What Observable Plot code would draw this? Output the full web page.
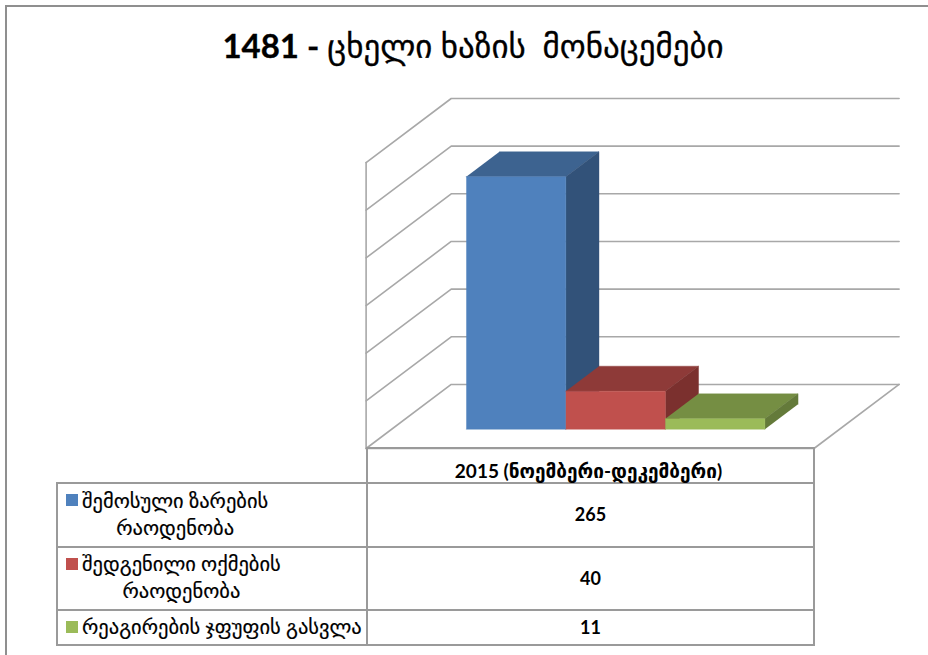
<!DOCTYPE html>
<html><head><meta charset="utf-8">
<script src="https://cdn.jsdelivr.net/npm/d3@7"></script>
<script src="https://cdn.jsdelivr.net/npm/@observablehq/plot@0.6"></script>
<style>
html,body{margin:0;padding:0;background:#fff;}
#page{position:relative;width:928px;height:655px;overflow:hidden;font-family:Lato,"DejaVu Sans",sans-serif;color:#000;}
#frame{position:absolute;left:5px;top:5px;width:940px;height:670px;border:2px solid #8f8f8f;box-sizing:border-box;}
#title{position:absolute;left:0;top:25px;width:946px;text-align:center;font-size:33px;white-space:pre;-webkit-text-stroke:0.3px #000;}
#title b{font-weight:700;}
#chart{position:absolute;left:0;top:90px;}
#chart svg{display:block;}
table{position:absolute;left:56px;top:447px;border-collapse:collapse;table-layout:fixed;width:757px;}
td{border:2px solid #9a9a9a;padding:0;box-sizing:border-box;}
td.blank{border:none;border-bottom:2px solid #9a9a9a;border-right:2px solid #9a9a9a;}
td.val,td.head{text-align:center;font-weight:700;font-size:18px;}
td.val{padding-bottom:2px;}
td.head{padding-top:10px;font-size:19px;padding-right:4px;}
td.leg{padding-left:8px;padding-bottom:3px;font-size:20.5px;line-height:27px;vertical-align:middle;-webkit-text-stroke:0.2px #000;}
.box{display:inline-block;}
.l1{display:flex;align-items:center;white-space:nowrap;}
.sw{width:12px;height:12px;margin-right:4px;flex:none;}
.l2{padding-left:16px;text-align:center;white-space:nowrap;}
</style></head>
<body>
<div id="page">
<div id="frame"></div>
<div id="title"></div>
<div id="chart"></div>
<table id="tbl"></table>
</div>
<script>
const titleNumber = "1481 - ";
const titleWords = "ცხელი ხაზის  მონაცემები";
const period = "2015 (ნოემბერი-დეკემბერი)";
const legendLines = [
  ["შემოსული ზარების", "რაოდენობა"],
  ["შედგენილი ოქმების", "რაოდენობა"],
  ["რეაგირების ჯფუფის გასვლა"]
];
const values = [265, 40, 11];
const frontColors = ["#4F81BD", "#C0504D", "#9BBB59"];
const topColors = ["#3D6390", "#8E3A38", "#758E43"];
const sideColors = ["#325279", "#7B302E", "#647A3A"];
const gridTicks = [0, 50, 100, 150, 200, 250, 300];

// oblique view of the chart's box: category units across, value units up
const floorWidth = 4.5, floorMargin = 0.75;
const shiftX = 0.855, shiftY = 67.2;
const barDepthFrom = 0.3, barDepthTo = 0.69;
const project = (u, w, d) => ({X: u + d * shiftX, Y: w + d * shiftY});

const grid = [];
gridTicks.forEach(t => {
  const a = project(0, t, 0), b = project(0, t, 1), c = project(floorWidth, t, 1);
  grid.push({k: "g" + t, ...a}, {k: "g" + t, ...b}, {k: "g" + t, ...c});
});
const top0 = gridTicks[gridTicks.length - 1];
[[project(0, 0, 0), project(0, top0, 0)],
 [project(0, 0, 0), project(floorWidth, 0, 0)],
 [project(floorWidth, 0, 0), project(floorWidth, 0, 1)]
].forEach((seg, i) => seg.forEach(p => grid.push({k: "e" + i, ...p})));

const faces = [];
values.forEach((v, i) => {
  const u0 = floorMargin + i, u1 = u0 + 1;
  const d0 = barDepthFrom, d1 = barDepthTo;
  const add = (name, color, pts) => pts.forEach(p => faces.push({k: i + name, color, ...project(...p)}));
  add("top", topColors[i], [[u0, v, d0], [u1, v, d0], [u1, v, d1], [u0, v, d1]]);
  add("side", sideColors[i], [[u1, 0, d0], [u1, v, d0], [u1, v, d1], [u1, 0, d1]]);
  add("front", frontColors[i], [[u0, 0, d0], [u1, 0, d0], [u1, v, d0], [u0, v, d0]]);
});

const plot = Plot.plot({
  width: 928, height: 362,
  marginTop: 0, marginRight: 0, marginBottom: 0, marginLeft: 0,
  x: {axis: null, domain: [0, floorWidth + shiftX], range: [365.6, 898.6]},
  y: {axis: null, domain: [0, top0 + shiftY], range: [358, 8]},
  marks: [
    Plot.line(grid, {x: "X", y: "Y", z: "k", stroke: "#a8a8a8", strokeWidth: 1.6}),
    Plot.line(faces, {x: "X", y: "Y", z: "k", fill: "color", stroke: "color", strokeWidth: 0.4})
  ]
});
document.getElementById("chart").append(plot);

const title = document.getElementById("title");
const b = document.createElement("b"); b.textContent = titleNumber;
title.append(b, document.createTextNode(titleWords));

const heights = [34, 64, 63, 35];
const tbl = document.getElementById("tbl");
tbl.innerHTML = `<colgroup><col style="width:310px"><col style="width:447px"></colgroup>`;
const hr = tbl.insertRow();
hr.style.height = heights[0] + "px";
hr.insertCell().className = "blank";
const hc = hr.insertCell(); hc.className = "head"; hc.textContent = period;
legendLines.forEach((lines, i) => {
  const r = tbl.insertRow();
  r.style.height = heights[i + 1] + "px";
  const c = r.insertCell(); c.className = "leg";
  const box = document.createElement("div"); box.className = "box";
  const l1 = document.createElement("div"); l1.className = "l1";
  const sw = document.createElement("span"); sw.className = "sw"; sw.style.background = frontColors[i];
  l1.append(sw, document.createTextNode(lines[0]));
  box.append(l1);
  if (lines[1]) { const l2 = document.createElement("div"); l2.className = "l2"; l2.textContent = lines[1]; box.append(l2); }
  c.append(box);
  const v = r.insertCell(); v.className = "val"; v.textContent = values[i];
});
</script>
</body></html>
